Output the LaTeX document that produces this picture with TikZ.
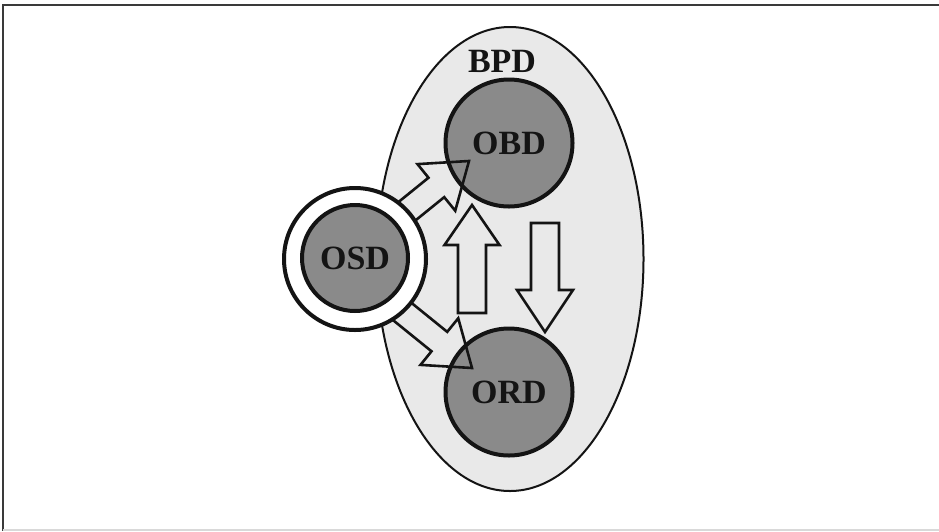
\documentclass[tikz,border=0pt]{standalone}
\usepackage{fontspec}
\setmainfont{Liberation Serif}
\usetikzlibrary{shapes.geometric}
\definecolor{bgfill}{HTML}{E9E9E9}
\definecolor{discfill}{HTML}{8A8A8A}
\definecolor{inkc}{HTML}{141414}
\definecolor{framec}{HTML}{3A3A3A}
\newcommand{\blkarrow}[7]{% tip x, tip y, angle, total length, head length, head half width, shaft half width
  \begin{scope}[shift={(#1,#2)},rotate=#3]
    \draw[arrowline] (0,0) -- (-#5,#6) -- (-#5,#7) -- (-#4,#7) -- (-#4,-#7) -- (-#5,-#7) -- (-#5,-#6) -- cycle;
  \end{scope}}
\tikzset{
  arrowline/.style={draw=inkc, line width=2.6pt, line join=miter, fill=none},
  disc/.style={circle, draw=inkc, line width=4pt, fill=discfill, inner sep=0pt,
    font=\fontsize{34}{34}\selectfont\bfseries, text=inkc},
  lbl/.style={inner sep=0pt, font=\fontsize{34}{34}\selectfont\bfseries, text=inkc},
}
\begin{document}
\begin{tikzpicture}[x=1pt,y=1pt]
\useasboundingbox (0,0) rectangle (939,-531);
\fill[white] (0,0) rectangle (939,-531);
% frame
\draw[framec, line width=2pt] (939,-5) -- (3,-5) -- (3,-531);
\draw[black!15, line width=1.2pt] (3,-530) -- (939,-530);
% BPD ellipse
\node[ellipse, draw=inkc, line width=2pt, fill=bgfill, minimum width=267, minimum height=464, inner sep=0pt] (bpd) at (510,-259) {};
\node[lbl] (bpdlabel) at (502,-61) {BPD};
% OBD and ORD
\node[disc, minimum size=127] (obd) at (509,-143) {OBD};
\node[disc, minimum size=127] (ord) at (509,-392) {ORD};
% block arrows
\blkarrow{472}{-205}{90}{108}{40}{27.5}{14}
\blkarrow{545}{-332}{-90}{109}{42}{28}{14}
\blkarrow{469}{-161}{39}{100}{42}{30}{12.5}
\blkarrow{472}{-368}{-39}{100}{42}{30}{12.5}
% OSD
\node[circle, draw=inkc, line width=4pt, fill=white, minimum size=142, inner sep=0pt] (osdring) at (355,-259) {};
\node[disc, minimum size=106] (osd) at (355,-258) {OSD};
\end{tikzpicture}
\end{document}
